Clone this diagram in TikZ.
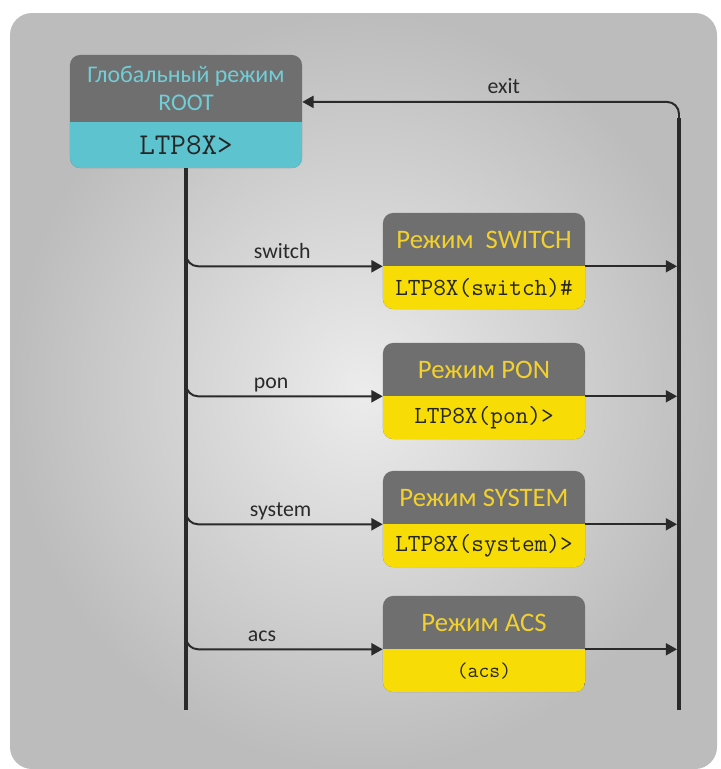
\documentclass[tikz,border=0pt]{standalone}
\usepackage{fontspec}
\setmainfont{Carlito}
\usepackage{tikz}
\usetikzlibrary{positioning,arrows.meta,calc}
\definecolor{hdgray}{HTML}{6F6F6F}
\definecolor{rootcyan}{HTML}{5CC3CF}
\definecolor{rootcyantext}{HTML}{72CDD7}
\definecolor{modeyel}{HTML}{F7DC05}
\definecolor{modeyeltext}{HTML}{F2D12E}
\definecolor{linedark}{HTML}{2A2A2A}
\definecolor{bglight}{HTML}{ECECEC}
\definecolor{bgdark}{HTML}{BCBCBC}

\begin{document}
\begin{tikzpicture}[x=0.025cm, y=-0.025cm,
  modebox/.style 2 args={fill=hdgray, rounded corners=0.25cm, minimum width=5.05cm, minimum height=2.4cm, inner sep=0pt,
    path picture={\fill[#1, sharp corners] (path picture bounding box.south west) rectangle ([yshift=#2]path picture bounding box.south east);}},
  modetitle/.style={anchor=north, minimum width=5.05cm, minimum height=1.325cm, inner sep=0pt, text=modeyeltext, font=\fontsize{19}{21}\selectfont},
  modeprompt/.style={anchor=north, minimum width=5.05cm, minimum height=1.075cm, inner sep=0pt, text=black!85, font=\ttfamily\fontsize{17.5}{19}\selectfont},
  lbl/.style={anchor=base west, yshift=0.2cm, inner sep=0pt, text=linedark, font=\fontsize{15.5}{17}\selectfont},
  trunk/.style={draw=linedark, line width=2.8pt},
  branch/.style={draw=linedark, line width=1.4pt, rounded corners=0.3cm, -{Triangle[length=0.28cm, width=0.3cm]}},
  arr/.style={draw=linedark, line width=1.4pt, shorten >=0.05cm, -{Triangle[length=0.28cm, width=0.3cm]}}]
\useasboundingbox (0,0) rectangle (721,769);
\shade[inner color=bglight, outer color=bgdark, rounded corners=0.55cm] (10,13) rectangle (717,769);
\node[modebox={rootcyan}{1.15cm}, minimum width=5.8cm, minimum height=2.825cm] (root) at (186,111.5) {};
\node[modetitle, minimum width=5.8cm, minimum height=1.675cm, align=center, text=rootcyantext, font=\fontsize{17}{20}\selectfont] (roott) at (root.north) {Глобальный режим\\ROOT};
\node[modeprompt, minimum width=5.8cm, minimum height=1.15cm, font=\ttfamily\fontsize{21.5}{23}\selectfont] (rootp) at (roott.south) {LTP8X>};
\node[modebox={modeyel}{1.075cm}] (sw) at (484,261) {};
\node[modetitle] (swt) at (sw.north) {Режим~ SWITCH};
\node[modeprompt] (swp) at (swt.south) {LTP8X(switch)\#};
\node[modebox={modeyel}{1.075cm}] (pon) at (484,391) {};
\node[modetitle] (pont) at (pon.north) {Режим PON};
\node[modeprompt] (ponp) at (pont.south) {LTP8X(pon)>};
\node[modebox={modeyel}{1.075cm}] (sys) at (484,519) {};
\node[modetitle] (syst) at (sys.north) {Режим SYSTEM};
\node[modeprompt] (sysp) at (syst.south) {LTP8X(system)>};
\node[modebox={modeyel}{1.075cm}] (acs) at (484,644) {};
\node[modetitle] (acst) at (acs.north) {Режим ACS};
\node[modeprompt, font=\ttfamily\fontsize{15}{17}\selectfont] (acsp) at (acst.south) {(acs)};
\coordinate (lend) at (186,710);
\coordinate (rtop) at (679,118);
\coordinate (rend) at (679,710);
\draw[trunk] (root.south) -- (lend);
\draw[trunk] (rtop) -- (rend);
\draw[branch] (rtop) |- node[lbl, pos=0.71, anchor=base east] {exit} ([yshift=0.24cm]root.east);
\draw[branch] ($(swt.south west -| root.south)+(0,-16)$) |- node[lbl, pos=0.67] {switch} (swt.south west);
\draw[branch] ($(pont.south west -| root.south)+(0,-16)$) |- node[lbl, pos=0.67] {pon} (pont.south west);
\draw[branch] ($(syst.south west -| root.south)+(0,-16)$) |- node[lbl, pos=0.66] {system} (syst.south west);
\draw[branch] ($(acst.south west -| root.south)+(0,-16)$) |- node[lbl, pos=0.655] {acs} (acst.south west);
\draw[arr] (swt.south east) -- (swt.south east -| rtop);
\draw[arr] (pont.south east) -- (pont.south east -| rtop);
\draw[arr] (syst.south east) -- (syst.south east -| rtop);
\draw[arr] (acst.south east) -- (acst.south east -| rtop);
\end{tikzpicture}
\end{document}
